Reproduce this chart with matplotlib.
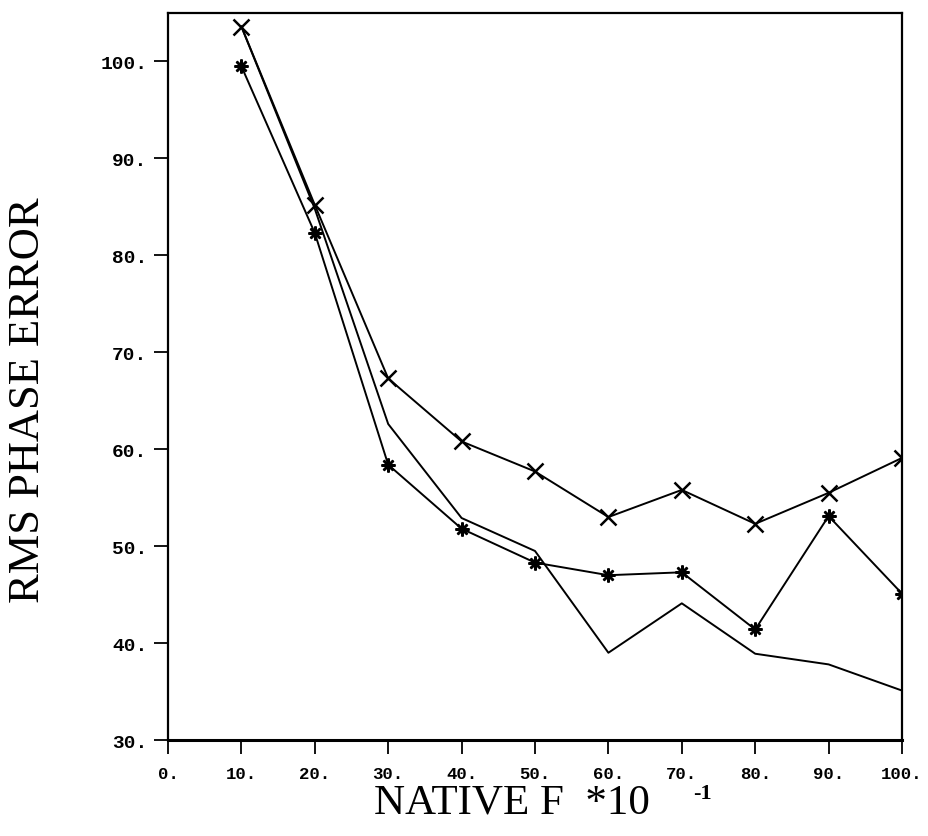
import matplotlib
matplotlib.use("Agg")
import matplotlib.pyplot as plt

# Data
native_f = [10, 20, 30, 40, 50, 60, 70, 80, 90, 100]
series_x = [103.6, 85.2, 67.3, 60.8, 57.7, 53.0, 55.8, 52.3, 55.5, 59.1]
series_star = [99.5, 82.3, 58.4, 51.8, 48.3, 47.0, 47.3, 41.4, 53.1, 45.1]
series_plain = [103.6, 84.8, 62.6, 52.9, 49.5, 39.0, 44.1, 38.9, 37.8, 35.1]

xticks = [0, 10, 20, 30, 40, 50, 60, 70, 80, 90, 100]
xtick_labels = ["0.", "10.", "20.", "30.", "40.", "50.", "60.", "70.", "80.", "90.", "100."]
yticks = [30, 40, 50, 60, 70, 80, 90, 100]
ytick_labels = ["30.", "40.", "50.", "60.", "70.", "80.", "90.", "100."]

W, H = 929, 837
fig = plt.figure(figsize=(W / 100, H / 100), dpi=100)
ax = fig.add_axes([168 / W, 1 - 741 / H, (902 - 168) / W, (741 - 14) / H])

lw = 1.4
ax.plot(native_f, series_plain, color="black", lw=lw)
ax.plot(native_f, series_star, color="black", lw=lw, marker=(8, 2, 0),
        markersize=10, markeredgewidth=1.8)
ax.plot(native_f, series_x, color="black", lw=lw, marker="x",
        markersize=12, markeredgewidth=1.8)

ax.set_xlim(0, 100)
ax.set_ylim(30, 105)
ax.set_xticks(xticks)
ax.set_xticklabels(xtick_labels)
ax.set_yticks(yticks)
ax.set_yticklabels(ytick_labels)

for lab in ax.get_xticklabels():
    lab.set_fontfamily("Liberation Mono")
    lab.set_fontweight("bold")
    lab.set_fontsize(12.5)
for lab in ax.get_yticklabels():
    lab.set_fontfamily("Liberation Mono")
    lab.set_fontweight("bold")
    lab.set_fontsize(14)

ax.tick_params(axis="both", direction="out", length=10, width=1.3, color="black")
ax.tick_params(axis="x", pad=9)
ax.tick_params(axis="y", pad=5)
for s in ax.spines.values():
    s.set_linewidth(1.6)
    s.set_color("black")
ax.spines["bottom"].set_linewidth(2.2)

ax.set_ylabel("RMS PHASE ERROR", fontfamily="Liberation Serif", fontsize=32)
ax.yaxis.set_label_coords((48 - 168) / 734, (741 - 400) / 727)

fig.text(512 / W, 1 - 803 / H, "NATIVE F  *10", fontfamily="Liberation Serif",
         fontsize=31, ha="center", va="center")
fig.text(702 / W, 1 - 794 / H, "-1", fontfamily="Liberation Serif",
         fontsize=16, fontweight="bold", ha="center", va="center")

fig.savefig("out.png", dpi=100)
